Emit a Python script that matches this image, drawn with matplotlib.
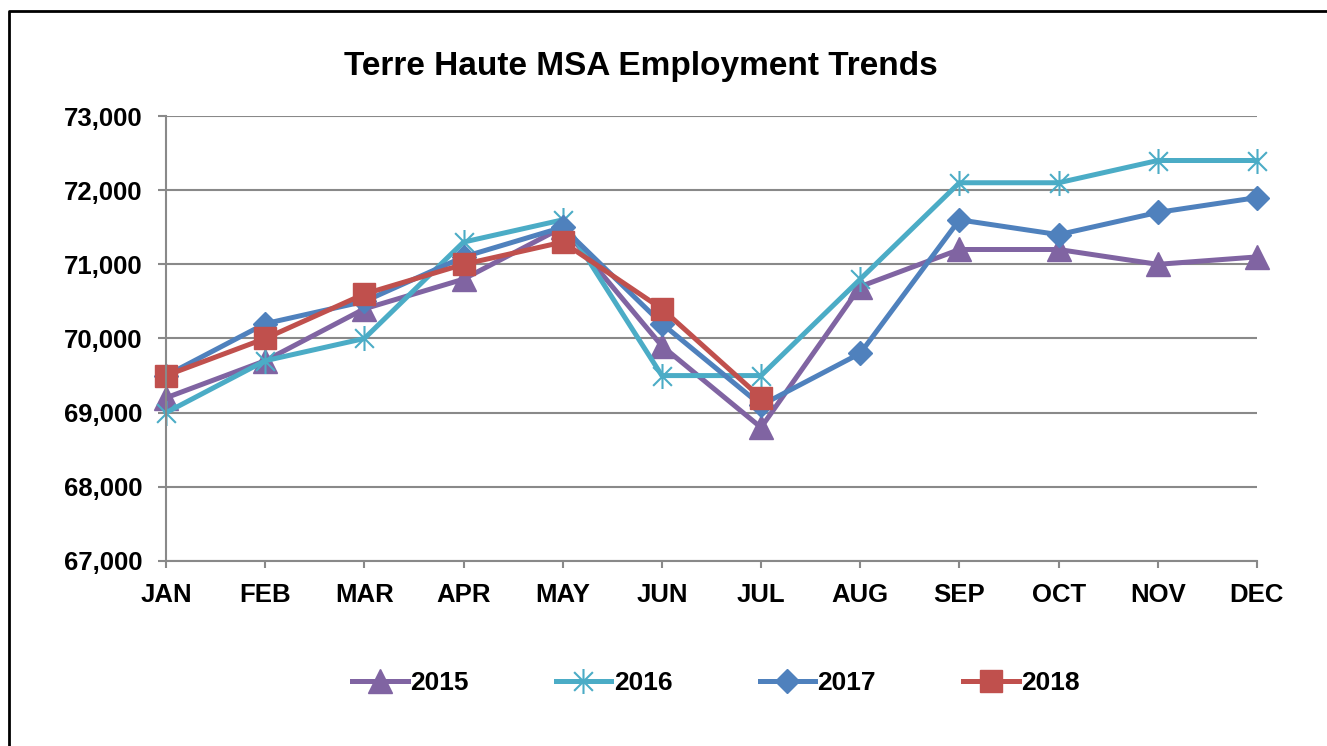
import matplotlib.pyplot as plt
from matplotlib.path import Path
from matplotlib.lines import Line2D
from matplotlib.ticker import FuncFormatter

plt.rcParams['font.family'] = ['Liberation Sans', 'DejaVu Sans']
plt.rcParams['font.weight'] = 'bold'

months = ['JAN', 'FEB', 'MAR', 'APR', 'MAY', 'JUN', 'JUL', 'AUG', 'SEP', 'OCT', 'NOV', 'DEC']
emp_2015 = [69200, 69700, 70400, 70800, 71500, 69900, 68800, 70700, 71200, 71200, 71000, 71100]
emp_2016 = [69000, 69700, 70000, 71300, 71600, 69500, 69500, 70800, 72100, 72100, 72400, 72400]
emp_2017 = [69500, 70200, 70500, 71100, 71500, 70200, 69100, 69800, 71600, 71400, 71700, 71900]
emp_2018 = [69500, 70000, 70600, 71000, 71300, 70400, 69200]
y_ticks = [67000, 68000, 69000, 70000, 71000, 72000, 73000]

# excel style asterisk: vertical bar plus an x
star = Path([(0, -1), (0, 1), (-0.75, -0.75), (0.75, 0.75), (-0.75, 0.75), (0.75, -0.75)],
            [Path.MOVETO, Path.LINETO, Path.MOVETO, Path.LINETO, Path.MOVETO, Path.LINETO])

fig = plt.figure(figsize=(13.27, 7.46), dpi=100)
ax = fig.add_axes([0.1251, 0.2480, 0.8221, 0.5965])

x = list(range(len(months)))
ax.plot(x, emp_2015, color='#8064A2', lw=3.6, marker='^', ms=17, mew=1, label='2015', clip_on=False)
ax.plot(x, emp_2016, color='#4BACC6', lw=3.6, marker=star, ms=18, mew=1.5, label='2016', clip_on=False)
ax.plot(x, emp_2017, color='#4F81BD', lw=3.6, marker='D', ms=12.5, mew=1, label='2017', clip_on=False)
ax.plot(x[:len(emp_2018)], emp_2018, color='#C0504D', lw=3.6, marker='s', ms=16, mew=1, label='2018',
        clip_on=False)

ax.set_xlim(0, 11)
ax.set_ylim(67000, 73000)
ax.set_xticks(x)
ax.set_xticklabels(months)
ax.set_yticks(y_ticks)
ax.yaxis.set_major_formatter(FuncFormatter(lambda v, p: f'{int(v):,}'))
ax.grid(axis='y', color='#898989', lw=1.5)
ax.set_axisbelow(True)
for s in ['top', 'right']:
    ax.spines[s].set_visible(False)
for s in ['left', 'bottom']:
    ax.spines[s].set_color('#898989')
    ax.spines[s].set_linewidth(1.5)
ax.tick_params(axis='y', length=6, width=1.5, color='#898989', pad=11, labelsize=18.5)
ax.tick_params(axis='x', length=5, width=1.5, color='#898989', pad=11, labelsize=18.5)

fig.text(641 / 1327, 1 - 67 / 746, 'Terre Haute MSA Employment Trends',
         ha='center', va='center', fontsize=24, fontweight='bold')

ax.legend(loc='center', bbox_to_anchor=(716 / 1327, 0.0845), bbox_transform=fig.transFigure,
          ncol=4, frameon=False, fontsize=19, handlelength=2.1, handletextpad=0.1,
          columnspacing=3.3)

# outer frame, only top and left edges fall inside the image
fig.add_artist(Line2D([9 / 1327, 9 / 1327, 1.0], [0.0, 1 - 11 / 746, 1 - 11 / 746],
                      transform=fig.transFigure, color='black', lw=2))

fig.savefig('out.png', dpi=100)
